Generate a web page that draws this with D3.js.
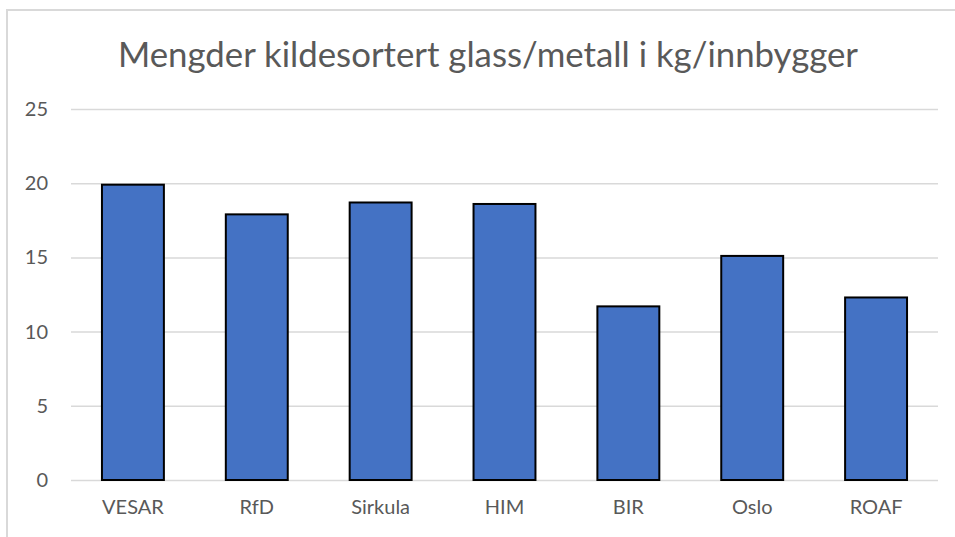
<!DOCTYPE html>
<html>
<head>
<meta charset="utf-8">
<script src="https://cdn.jsdelivr.net/npm/d3@7"></script>
<style>
  body { margin: 0; background: #fff; }
  svg { display: block; font-family: Lato, "Open Sans", sans-serif; }
</style>
</head>
<body>
<div id="chart"></div>
<script>
// data
var categories = ["VESAR", "RfD", "Sirkula", "HIM", "BIR", "Oslo", "ROAF"];
var values = [19.9, 17.9, 18.7, 18.6, 11.7, 15.1, 12.3];
var yTicks = [0, 5, 10, 15, 20, 25];
var title = "Mengder kildesortert glass/metall i kg/innbygger";

var W = 955, H = 537;
var m = { left: 71, right: 17, top: 109, bottom: 57 };

var svg = d3.select("#chart").append("svg").attr("width", W).attr("height", H);

// chart frame (only top and left edges show in the crop)
svg.append("path")
  .attr("d", "M7,537 V10 H955")
  .attr("fill", "none").attr("stroke", "#d9d9d9").attr("stroke-width", 2);

var x = d3.scaleBand().domain(categories).range([m.left, W - m.right]).paddingInner(0.5).paddingOuter(0.25);
var y = d3.scaleLinear().domain([0, 25]).range([H - m.bottom, m.top]);

// gridlines
svg.append("g")
  .attr("transform", "translate(" + m.left + ",0)")
  .call(d3.axisLeft(y).tickValues(yTicks).tickSize(-(W - m.left - m.right)).tickFormat(""))
  .call(function(g){
    g.select(".domain").remove();
    g.selectAll("line").attr("stroke", "#d9d9d9").attr("stroke-width", 1.5);
  });

// bars
svg.append("g").selectAll("rect")
  .data(values)
  .join("rect")
  .attr("x", function(d, i){ return x(categories[i]); })
  .attr("y", function(d){ return y(d); })
  .attr("width", x.bandwidth())
  .attr("height", function(d){ return y(0) - y(d); })
  .attr("fill", "#4472c4")
  .attr("stroke", "#000").attr("stroke-width", 2);

// y labels
svg.append("g")
  .attr("transform", "translate(48,0)")
  .call(d3.axisLeft(y).tickValues(yTicks).tickSize(0).tickPadding(0))
  .call(function(g){
    g.select(".domain").remove();
    g.selectAll("text").attr("fill", "#595959").style("font-size", "20px").style("font-family", "Lato, sans-serif");
  });

// x labels
svg.append("g")
  .attr("transform", "translate(0," + (H - m.bottom) + ")")
  .call(d3.axisBottom(x).tickSize(0).tickPadding(20))
  .call(function(g){
    g.select(".domain").remove();
    g.selectAll("text").attr("fill", "#595959").style("font-size", "20px").style("font-family", "Lato, sans-serif");
  });

// title
svg.append("text")
  .attr("x", 488).attr("y", 67)
  .attr("text-anchor", "middle")
  .attr("fill", "#595959")
  .style("font-size", "35px")
  .attr("textLength", 740).attr("lengthAdjust", "spacingAndGlyphs")
  .text(title);
</script>
</body>
</html>
